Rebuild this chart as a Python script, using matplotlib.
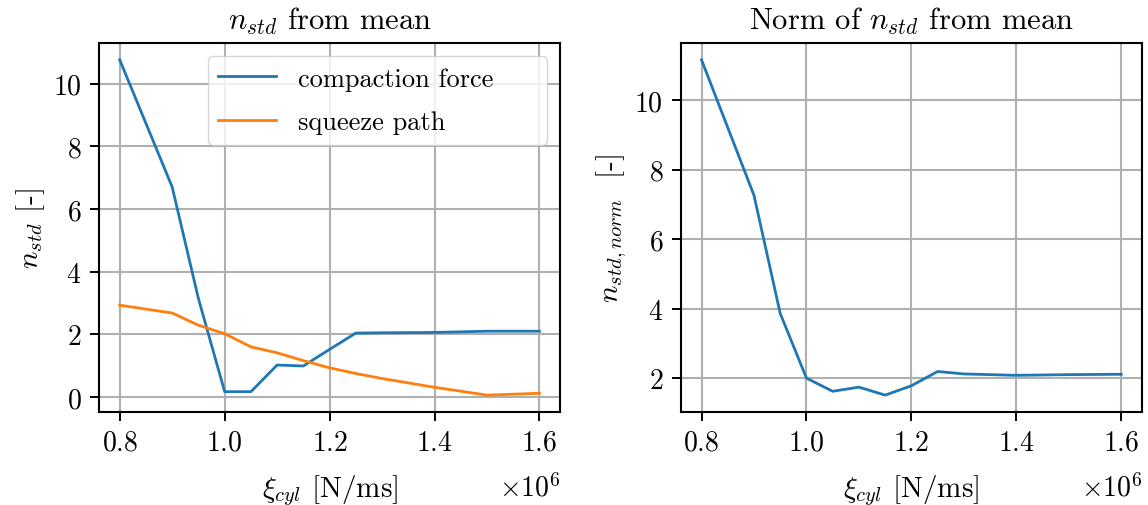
import numpy as np
import matplotlib
matplotlib.use("Agg")
import matplotlib.pyplot as plt

plt.rcParams["font.family"] = "serif"
plt.rcParams["font.serif"] = ["cmr10", "DejaVu Serif"]
plt.rcParams["mathtext.fontset"] = "cm"
plt.rcParams["axes.formatter.use_mathtext"] = True
plt.rcParams["font.size"] = 20
plt.rcParams["axes.unicode_minus"] = False

# cylinder damping values
xi_cyl = np.array([0.8, 0.9, 0.95, 1.0, 1.05, 1.1, 1.15, 1.2, 1.25, 1.3, 1.4, 1.5, 1.6]) * 1e6

# std of n from the mean
n_std_force = [10.76, 6.70, 3.14, 0.17, 0.17, 1.02, 0.99, 1.52, 2.04, 2.05, 2.06, 2.10, 2.10]
n_std_squeeze = [2.93, 2.68, 2.29, 2.02, 1.60, 1.41, 1.16, 0.93, 0.75, 0.59, 0.31, 0.06, 0.12]

# normed std
n_std_norm = [11.16, 7.26, 3.86, 2.00, 1.62, 1.74, 1.51, 1.78, 2.19, 2.12, 2.08, 2.10, 2.11]

fig, (ax1, ax2) = plt.subplots(1, 2, figsize=(11.48, 5.06), dpi=100)
fig.subplots_adjust(left=0.086, right=0.995, bottom=0.184, top=0.913, wspace=0.26)

ax1.plot(xi_cyl, n_std_force, color="#1f77b4", lw=2.0, label="compaction force     ")
ax1.plot(xi_cyl, n_std_squeeze, color="#ff7f0e", lw=2.0, label="squeeze path")
ax1.set_title(r"$n_{std}$ from mean", fontsize=22, pad=10)
ax1.set_ylabel(r"$n_{std}$ [-]", fontsize=21)
ax1.set_xlabel(r"$\xi_{cyl}$ [N/ms]", fontsize=21, labelpad=12)
ax1.legend(loc="upper right", fontsize=19, labelspacing=0.75, handlelength=2.2)

ax2.plot(xi_cyl, n_std_norm, color="#1f77b4", lw=2.0)
ax2.set_title(r"Norm of $n_{std}$ from mean", fontsize=22, pad=10)
ax2.set_ylabel(r"$n_{std,norm}$  [-]", fontsize=21)
ax2.set_xlabel(r"$\xi_{cyl}$ [N/ms]", fontsize=21, labelpad=12)

for ax in (ax1, ax2):
    ax.grid(True, lw=1.5, color="#b0b0b0")
    ax.set_xticks(np.array([0.8, 1.0, 1.2, 1.4, 1.6]) * 1e6)
    ax.tick_params(length=6.5, width=1.4, labelsize=20, pad=6)
    for s in ax.spines.values():
        s.set_linewidth(1.5)
    ax.xaxis.get_offset_text().set_fontsize(20)
    ax.xaxis.OFFSETTEXTPAD = 12

fig.savefig("out.png")
